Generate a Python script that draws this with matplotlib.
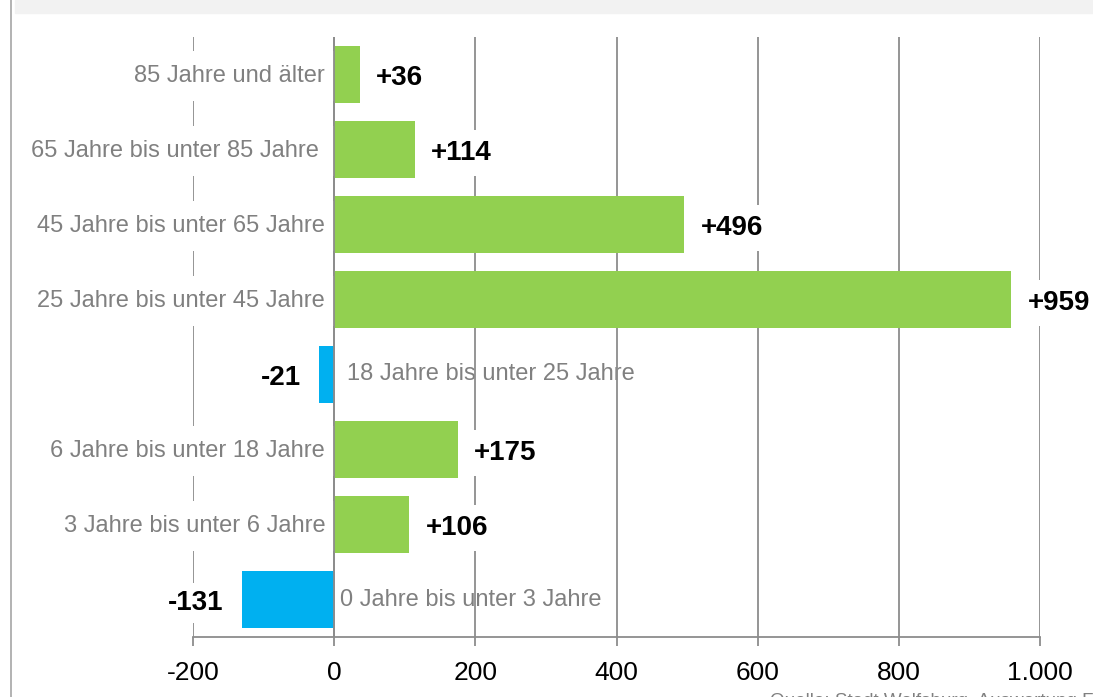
import matplotlib
matplotlib.use('Agg')
import matplotlib.pyplot as plt
from matplotlib.patches import Rectangle
from matplotlib.lines import Line2D

plt.rcParams['font.family'] = ['Liberation Sans', 'DejaVu Sans']

# data, bottom row first
categories = ['0 Jahre bis unter 3 Jahre', '3 Jahre bis unter 6 Jahre',
              '6 Jahre bis unter 18 Jahre', '18 Jahre bis unter 25 Jahre',
              '25 Jahre bis unter 45 Jahre', '45 Jahre bis unter 65 Jahre',
              '65 Jahre bis unter 85 Jahre ', '85 Jahre und älter']
values = [-131, 106, 175, -21, 959, 496, 114, 36]
xticks = [-200, 0, 200, 400, 600, 800, 1000]
xticklabels = ['-200', '0', '200', '400', '600', '800', '1.000']
source = 'Quelle: Stadt Wolfsburg, Auswertung F'

green = '#92d050'
blue = '#00b0f0'
grid_col = '#8c8c8c'
label_col = '#808080'

fig = plt.figure(figsize=(10.93, 6.97), dpi=100)

# header band and left frame line
fig.patches.append(Rectangle((15 / 1093, 1 - 13 / 697), 1, 13 / 697,
                             transform=fig.transFigure, color='#f2f2f2', zorder=0))
fig.add_artist(Line2D([10.5 / 1093, 10.5 / 1093], [0, 1], transform=fig.transFigure,
                      color='#a6a6a6', lw=1.2))

ax = fig.add_axes([193 / 1093, 1 - 637 / 697, 847 / 1093, 600 / 697])

ypos = list(range(len(categories)))
colors = [green if v > 0 else blue for v in values]
ax.barh(ypos, values, height=0.77, color=colors, zorder=2)
ax.axvline(0, color=grid_col, lw=1.3, zorder=2.5)

ax.set_xlim(-200, 1000)
ax.set_ylim(-0.5, 7.5)
ax.set_xticks(xticks)
ax.set_xticklabels(xticklabels, fontsize=19, color='black')
ax.set_yticks([])
ax.tick_params(axis='x', length=6.5, width=1.3, color=grid_col, pad=11)
ax.grid(axis='x', color=grid_col, lw=1.3)
ax.set_axisbelow(True)
for s in ['top', 'right', 'left']:
    ax.spines[s].set_visible(False)
ax.spines['bottom'].set_color(grid_col)
ax.spines['bottom'].set_linewidth(1.3)

for y, v, cat in zip(ypos, values, categories):
    if v > 0:
        ax.annotate(cat, xy=(0, y), xytext=(-6.5, -1.2), textcoords='offset points',
                    ha='right', va='center', fontsize=17, color=label_col, zorder=1,
                    bbox=dict(boxstyle='square,pad=0.6', fc='white', ec='none'))
        ax.annotate('+%d' % v, xy=(v, y), xytext=(12, -2.5), textcoords='offset points',
                    ha='left', va='center', fontsize=20, fontweight='bold', color='black',
                    zorder=3, bbox=dict(boxstyle='square,pad=0.35', fc='white', ec='none'))
    else:
        # the shorter label sits closer to the axis in the original
        dx = 4.5 if y == 0 else 9
        ax.annotate(cat, xy=(0, y), xytext=(dx, 0), textcoords='offset points',
                    ha='left', va='center', fontsize=17, color=label_col, zorder=0.4)
        ax.annotate('%d' % v, xy=(v, y), xytext=(-13, -2.5), textcoords='offset points',
                    ha='right', va='center', fontsize=20, fontweight='bold', color='black',
                    zorder=3, bbox=dict(boxstyle='square,pad=0.25', fc='white', ec='none'))

fig.text(770 / 1093, -8.5 / 697, source, ha='left', va='baseline',
         fontsize=13.6, color=label_col)

fig.savefig('out.png', dpi=100)
